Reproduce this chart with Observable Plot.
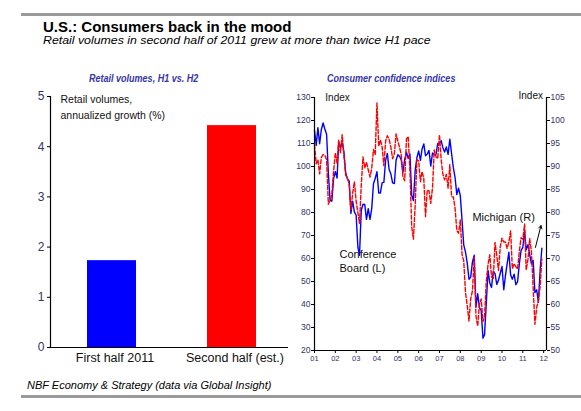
<!DOCTYPE html>
<html>
<head>
<meta charset="utf-8">
<script src="https://cdn.jsdelivr.net/npm/d3@7"></script>
<script src="https://cdn.jsdelivr.net/npm/@observablehq/plot@0.6"></script>
<style>
  html, body { margin: 0; padding: 0; background: #fff; }
  #wrap { position: relative; width: 581px; height: 411px; overflow: hidden; background: #fff;
          font-family: "Liberation Sans", Arial, sans-serif; }
  .abs { position: absolute; white-space: nowrap; line-height: 1; }
  .rule { position: absolute; left: 21px; width: 560px; height: 3px; background: #9a9a9a; }
  #title { left: 43px; top: 21px; font-size: 15px; line-height: 12px; font-weight: bold; color: #000; }
  #subtitle { left: 43px; top: 35px; font-size: 11.5px; line-height: 10px; font-style: italic; color: #000; }
  .ctitle { top: 73px; font-size: 11px; font-weight: bold; font-style: italic; color: #3535a8;
            transform-origin: 0 0; }
  #footer { left: 27px; top: 380px; font-size: 11px; font-style: italic; color: #000; }
  #left { position: absolute; left: 0; top: 85px; }
  #right { position: absolute; left: 290px; top: 85px; }
  svg { overflow: visible; }
</style>
</head>
<body>
<div id="wrap">
  <div class="rule" style="top:13px"></div>
  <div class="abs" id="title">U.S.: Consumers back in the mood</div>
  <div class="abs" id="subtitle" data-w="388">Retail volumes in second half of 2011 grew at more than twice H1 pace</div>
  <div class="abs ctitle" data-w="109" style="left:89px">Retail volumes, H1 vs. H2</div>
  <div class="abs ctitle" data-w="128" style="left:327px">Consumer confidence indices</div>
  <div id="left"></div>
  <div id="right"></div>
  <div class="abs" id="footer">NBF Economy &amp; Strategy (data via Global Insight)</div>
  <div class="rule" style="top:395px"></div>
</div>
<script>
// ---------- Data ----------
const periods = ["First half 2011", "Second half (est.)"];
const growth = [1.73, 4.42];
const barColors = ["#0000ff", "#ff0000"];
const leftBarTicks = [0, 1, 2, 3, 4, 5];

// Monthly, Jan 2001 .. Dec 2011
const conferenceBoard = [
  115.7,109.2,116.9,109.9,116.1,118.9,116.3,114.0,97.0,85.3,84.9,94.6,
  97.8,95.0,110.7,108.5,110.3,106.3,97.4,94.5,93.7,79.6,84.9,80.3,
  78.8,64.8,61.4,81.0,83.6,83.5,77.0,81.7,77.0,81.7,92.5,94.8,
  97.7,88.5,88.5,93.0,93.1,102.8,105.7,98.7,96.7,92.9,92.6,102.7,
  105.1,104.4,103.0,97.5,103.1,106.2,103.6,105.5,87.5,85.2,98.3,103.8,
  106.8,102.7,107.5,109.8,104.7,105.4,107.0,100.2,105.9,105.1,105.3,110.0,
  110.2,111.2,108.2,106.3,108.5,105.3,111.9,105.6,99.5,95.2,87.8,90.6,
  87.3,76.4,65.9,62.8,58.1,51.0,51.9,58.5,61.4,38.8,44.7,38.6,
  37.4,25.3,26.9,40.8,54.8,49.3,47.4,54.5,53.4,48.7,50.6,53.6,
  56.5,46.4,52.3,57.7,62.7,52.9,51.0,53.2,48.6,49.9,57.8,63.4,
  64.8,72.0,63.8,66.0,61.7,57.6,59.2,45.2,46.4,40.9,55.2,64.5
];
const michigan = [
  94.7,90.6,91.5,88.4,92.0,92.6,92.4,91.5,81.8,82.7,83.9,88.8,
  93.0,90.7,95.7,93.0,96.9,92.4,88.1,87.6,86.1,80.6,84.2,86.7,
  82.4,79.9,77.6,86.0,92.1,89.7,90.9,89.3,87.7,89.6,93.7,92.6,
  103.8,94.4,95.8,94.2,90.2,95.6,96.7,95.9,94.2,91.7,92.8,97.1,
  95.5,94.1,92.6,87.7,86.9,96.0,96.5,89.1,76.9,74.2,81.6,91.5,
  91.2,86.7,88.9,87.4,79.1,84.9,84.7,82.0,85.4,93.6,92.1,91.7,
  96.9,91.3,88.4,87.1,88.3,85.3,90.4,83.4,83.4,80.9,76.1,75.5,
  78.4,70.8,69.5,62.6,59.8,56.4,61.2,63.0,70.3,57.6,55.3,60.1,
  61.2,56.3,57.3,65.1,68.7,70.8,66.0,65.7,73.5,70.6,67.4,72.5,
  74.4,73.6,73.6,72.2,73.6,76.0,67.8,68.9,68.2,67.7,71.6,74.5,
  74.2,77.5,67.5,69.8,74.3,71.5,63.7,55.7,59.4,60.8,64.1,69.9
];
const leftTicks = [20, 30, 40, 50, 60, 70, 80, 90, 100, 110, 120, 130];
const rightTicks = [50, 55, 60, 65, 70, 75, 80, 85, 90, 95, 100, 105];
const yearLabels = ["01","02","03","04","05","06","07","08","09","10","11","12"];

// annotations (data coordinates: date, left-axis value)
const startLabels = [
  {date: new Date(Date.UTC(2001, 6, 10)), value: 130, text: "Index", size: 10},
  {date: new Date(Date.UTC(2008, 7, 1)), value: 78.3, text: "Michigan (R)", size: 11},
  {date: new Date(Date.UTC(2002, 2, 15)), value: 62.0, text: "Conference\nBoard (L)", size: 11}
];
const endLabels = [
  {date: new Date(Date.UTC(2011, 11, 20)), value: 130, text: "Index", size: 10}
];
const arrowData = [{x1: new Date(Date.UTC(2011, 7, 10)), y1: 64.8, x2: new Date(Date.UTC(2011, 10, 15)), y2: 74.3}];

// ---------- Helpers ----------
const regular = '"Liberation Sans", Arial, sans-serif';
const tickColor = "#333366";
const toLeft = r => (r - 50) * 2 + 20;     // right axis (Michigan) -> left axis units
const fromLeft = l => (l - 20) / 2 + 50;

// ---------- Left chart ----------
const barData = periods.map((p, i) => ({period: p, value: growth[i], color: barColors[i]}));
const left = Plot.plot({
  width: 295, height: 290,
  marginLeft: 50, marginRight: 7, marginTop: 11, marginBottom: 28,
  style: {background: "transparent", fontFamily: regular, overflow: "visible"},
  x: {domain: periods, range: [50, 292], paddingInner: 0.593, paddingOuter: 0.3, label: null},
  y: {domain: [0, 5], label: null},
  marks: [
    Plot.barY(barData, {x: "period", y: "value", fill: "color"}),
    Plot.ruleY([0], {stroke: "#000", strokeWidth: 1.2}),
    Plot.frame({anchor: "left", stroke: "#000", strokeWidth: 1.2}),
    Plot.axisY({ticks: leftBarTicks, tickFormat: d => String(d), tickSize: 3, tickPadding: 3, fontSize: 12,
                fontFamily: regular, stroke: "#000", fill: tickColor, label: null}),
    Plot.axisX({tickSize: 0, tickPadding: 6, fontSize: 12.5, fontFamily: regular, fill: "#111",
                dx: 3, label: null}),
    Plot.text(["Retail volumes,\nannualized growth (%)"], {
      frameAnchor: "top-left", dx: 10, dy: -5, textAnchor: "start", lineAnchor: "top",
      lineHeight: 1.55, fontSize: 10.5, fill: "#111", fontFamily: regular
    })
  ]
});
document.getElementById("left").appendChild(left);

// ---------- Right chart ----------
const months = d3.utcMonths(new Date(Date.UTC(2001, 0, 1)), new Date(Date.UTC(2012, 0, 1)));
const cbData = months.map((d, i) => ({date: d, value: conferenceBoard[i]}));
const miData = months.map((d, i) => ({date: d, value: michigan[i]}));
const xDomain = [new Date(Date.UTC(2001, 0, 1)), new Date(Date.UTC(2012, 1, 20))];
const yearTicks = yearLabels.map(y => new Date(Date.UTC(2000 + +y, 0, 1)));

const right = Plot.plot({
  width: 291, height: 290,
  marginLeft: 24, marginRight: 35, marginTop: 12, marginBottom: 25,
  style: {background: "transparent", fontFamily: regular, overflow: "visible"},
  x: {type: "utc", domain: xDomain, label: null},
  y: {domain: [20, 130], label: null},
  marks: [
    Plot.line(cbData, {x: "date", y: "value", stroke: "#0000ff", strokeWidth: 1.4}),
    Plot.line(miData, {x: "date", y: d => toLeft(d.value), stroke: "#ff0000", strokeWidth: 1.4,
                       strokeDasharray: "4,2"}),
    Plot.ruleY([20], {stroke: "#000", strokeWidth: 1.2}),
    Plot.ruleX(xDomain, {stroke: "#000", strokeWidth: 1.2}),
    Plot.axisY({anchor: "left", ticks: leftTicks, tickSize: 3, tickPadding: 1, fontSize: 8.5,
                fontFamily: regular, stroke: "#000", fill: tickColor, label: null}),
    Plot.axisY({anchor: "right", ticks: rightTicks.map(toLeft), tickFormat: fromLeft, tickSize: 3,
                tickPadding: 1, fontSize: 8.5, fontFamily: regular, stroke: "#000", fill: tickColor, label: null}),
    Plot.axisX({ticks: yearTicks, tickFormat: (d, i) => yearLabels[i], tickSize: 3, tickPadding: 2,
                fontSize: 7.5, fontFamily: regular, stroke: "#000", fill: tickColor, label: null}),
    Plot.text(startLabels, {x: "date", y: "value", text: "text", textAnchor: "start",
                            lineAnchor: "top", lineHeight: 1.3, dy: -6, fontSize: "size",
                            fill: "#111", fontFamily: regular}),
    Plot.text(endLabels, {x: "date", y: "value", text: "text", textAnchor: "end",
                          lineAnchor: "top", dy: -6, fontSize: 10, fill: "#111", fontFamily: regular}),
    Plot.arrow(arrowData, {x1: "x1", y1: "y1", x2: "x2", y2: "y2", stroke: "#000", strokeWidth: 1,
                           headLength: 5})
  ]
});
document.getElementById("right").appendChild(right);

// fit the small titles to their reference width
document.querySelectorAll("[data-w]").forEach(el => {
  const s = +el.dataset.w / el.offsetWidth;
  el.style.transformOrigin = "0 0";
  el.style.transform = `scaleX(${s})`;
});
</script>
</body>
</html>
